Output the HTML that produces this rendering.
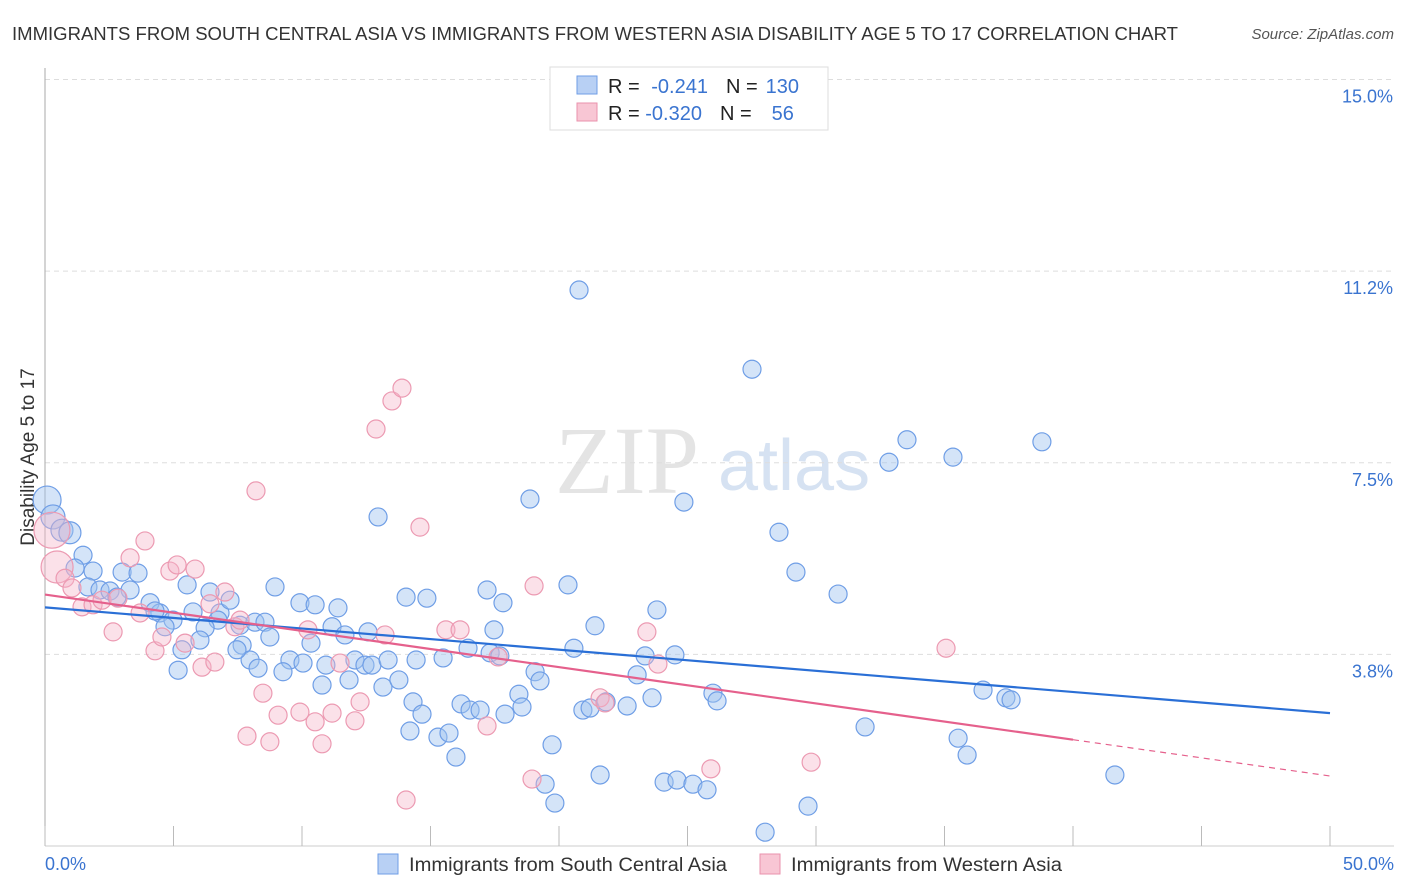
<!DOCTYPE html>
<html><head><meta charset="utf-8">
<style>
body{margin:0;background:#fff;font-family:"Liberation Sans",sans-serif;}
#wrap{position:relative;width:1406px;height:892px;overflow:hidden;}
</style></head>
<body>
<div id="wrap">
<svg id="svg" width="1406" height="892">
  <text x="12" y="40" font-size="18" fill="#333" textLength="1166" lengthAdjust="spacingAndGlyphs">IMMIGRANTS FROM SOUTH CENTRAL ASIA VS IMMIGRANTS FROM WESTERN ASIA DISABILITY AGE 5 TO 17 CORRELATION CHART</text>
  <text x="1394" y="39" font-size="15" fill="#555" font-style="italic" text-anchor="end">Source: ZipAtlas.com</text>
  <text x="34" y="457" font-size="19" fill="#333" text-anchor="middle" transform="rotate(-90 34 457)">Disability Age 5 to 17</text>
  <text x="555" y="493" font-size="96" fill="#e4e4e4" font-family="Liberation Serif,serif">ZIP</text>
  <text x="718" y="490" font-size="72" fill="#d6e2f2">atlas</text>
  <g id="grid"></g>
  <g id="marks"></g>
  <g>
    <rect x="550" y="67" width="278" height="63" fill="#fff" stroke="#ddd"/>
    <rect x="577" y="76" width="20" height="18" fill="#b8d0f4" stroke="#6f9ee6"/>
    <rect x="577" y="103" width="20" height="18" fill="#f8c6d4" stroke="#ea92ac"/>
    <text x="608" y="93" font-size="20" fill="#222">R = <tspan fill="#3a74d0" dx="6">-0.241</tspan><tspan dx="18" fill="#222">N =</tspan><tspan dx="8" fill="#3a74d0">130</tspan></text>
    <text x="608" y="120" font-size="20" fill="#222">R = <tspan fill="#3a74d0">-0.320</tspan><tspan dx="18" fill="#222">N =</tspan><tspan dx="20" fill="#3a74d0">56</tspan></text>
  </g>
  <g>
    <rect x="378" y="854" width="20" height="20" fill="#b8d0f4" stroke="#6f9ee6"/>
    <text x="409" y="871" font-size="19" fill="#333" textLength="318" lengthAdjust="spacingAndGlyphs">Immigrants from South Central Asia</text>
    <rect x="760" y="854" width="20" height="20" fill="#f8c6d4" stroke="#ea92ac"/>
    <text x="791" y="871" font-size="19" fill="#333" textLength="271" lengthAdjust="spacingAndGlyphs">Immigrants from Western Asia</text>
  </g>
</svg>
</div>
<script>
const yTicks=[3.75,7.5,11.25,15];
const yTickLabels=["3.8%","7.5%","11.2%","15.0%"];
const xTickValues=[0,5,10,15,20,25,30,35,40,45,50];
const xEndLabels=["0.0%","50.0%"];
const blueX=[0.08,0.31,0.66,0.97,1.48,1.17,1.87,3.0,3.62,1.67,2.14,2.53,3.31,2.8,4.09,4.47,4.28,4.98,4.67,5.53,5.76,6.42,6.81,7.2,6.73,6.23,6.03,5.33,5.18,7.59,8.17,8.56,7.67,8.75,8.95,9.92,10.51,11.4,11.17,11.67,12.57,12.96,14.05,14.86,9.53,10.04,10.93,12.06,12.45,12.72,13.35,14.44,15.49,7.98,8.29,7.47,9.26,10.35,10.78,11.83,13.15,13.77,14.32,14.67,14.2,15.29,15.72,15.99,16.19,16.54,16.93,17.2,17.82,17.47,16.46,17.32,17.7,18.44,18.56,17.9,18.87,19.07,19.26,19.73,19.46,19.84,20.35,20.58,20.93,21.21,21.4,21.6,21.83,22.65,23.04,23.35,23.62,23.81,24.09,24.51,24.59,25.21,25.76,25.99,26.15,24.86,28.56,29.22,30.86,31.91,32.84,33.54,35.33,35.53,35.88,36.5,37.39,37.59,38.79,41.63,20.78,27.51,28.02,29.69];
const blueY=[6.77,6.44,6.18,6.13,5.69,5.44,5.38,5.36,5.34,5.07,5.01,4.99,5.01,4.87,4.76,4.56,4.60,4.42,4.29,5.11,4.58,4.97,4.56,4.81,4.42,4.27,4.03,3.84,3.44,4.32,4.38,4.38,3.93,4.09,5.07,4.76,4.72,4.66,4.29,4.13,4.19,6.44,4.87,4.85,3.64,3.58,3.54,3.64,3.54,3.54,3.64,3.64,3.68,3.64,3.48,3.84,3.41,3.97,3.15,3.25,3.11,3.25,2.82,2.58,2.25,2.13,2.21,1.74,2.78,2.66,2.66,5.01,4.76,4.23,3.87,3.78,3.72,2.97,2.72,2.58,6.79,3.41,3.23,1.98,1.21,0.84,5.11,3.87,2.66,2.70,4.31,1.39,2.82,2.74,3.35,3.72,2.90,4.62,1.25,3.74,1.29,1.21,1.10,2.99,2.84,6.73,6.14,5.36,4.93,2.33,7.51,7.95,7.61,2.11,1.78,3.05,2.90,2.86,7.91,1.39,10.88,9.33,0.27,0.78];
const pinkX=[0.27,0.47,0.78,1.05,1.44,1.87,2.22,2.65,2.84,3.31,3.7,3.89,4.28,4.55,4.86,5.14,5.45,5.84,6.11,6.42,6.61,7.0,7.39,7.59,7.86,8.21,8.48,8.75,9.07,9.92,10.23,10.51,10.78,11.17,11.48,12.06,12.26,12.88,13.23,13.5,13.89,14.05,14.59,15.6,16.15,17.2,17.63,18.95,19.03,21.6,21.79,23.42,23.85,25.91,29.81,35.06];
const pinkY=[6.18,5.46,5.24,5.05,4.68,4.72,4.81,4.19,4.85,5.64,4.56,5.97,3.82,4.09,5.38,5.50,3.97,5.42,3.50,4.74,3.60,4.97,4.29,4.42,2.15,6.95,2.99,2.04,2.56,2.62,4.23,2.43,2.00,2.60,3.58,2.45,2.82,8.16,4.13,8.71,8.96,0.90,6.24,4.23,4.23,2.35,3.70,1.31,5.09,2.90,2.80,4.19,3.56,1.51,1.64,3.87];
const blueTrend=[4.67,2.6];      // value at x=0, x=50
const pinkTrend=[4.92,1.37];     // value at x=0, x=50
const pinkSolidEnd=40;

const X=v=>45+v*25.7;
const Y=v=>846-v*51.1;
const NS="http://www.w3.org/2000/svg";
function mk(tag,attrs,parent){const e=document.createElementNS(NS,tag);for(const k in attrs)e.setAttribute(k,attrs[k]);parent.appendChild(e);return e;}
const grid=document.getElementById('grid'),marks=document.getElementById('marks');

yTicks.forEach((t,i)=>{
  const l=mk('line',{x1:45,x2:1394,y1:Y(t),y2:Y(t),stroke:'#ddd','stroke-dasharray':'5,4'},grid);
  
  
  const tx=mk('text',{x:1393,y:Y(t)+23,'font-size':18,fill:'#3a74d0','text-anchor':'end'},grid);
  tx.textContent=yTickLabels[i];
  
  
});
const ax=mk('line',{x1:45,x2:45,y1:68,y2:846,stroke:'#aaa'},grid);


const bx=mk('line',{x1:45,x2:1394,y1:846,y2:846,stroke:'#ccc'},grid);


xTickValues.forEach(t=>{
  const l=mk('line',{x1:X(t),x2:X(t),y1:826,y2:846,stroke:'#bbb'},grid);
  
  
});
[[0,'start',45],[50,'end',1394]].forEach((d,i)=>{
  const tx=mk('text',{x:d[2],y:870,'font-size':18,fill:'#3a74d0','text-anchor':d[1]},grid);
  tx.textContent=xEndLabels[i];
  
  
});

blueX.forEach((v,i)=>{
  const r=i==0?14:i==1?12:(i<4?11:9);
  const c=mk('circle',{cx:X(v),cy:Y(blueY[i]),r:r,fill:'rgba(160,196,240,0.45)',stroke:'#6f9ee6','stroke-width':1.2},marks);
  
  
});
pinkX.forEach((v,i)=>{
  const r=i==0?18:i==1?16:9;
  const c=mk('circle',{cx:X(v),cy:Y(pinkY[i]),r:r,fill:'rgba(246,180,200,0.4)',stroke:'#ec9ab2','stroke-width':1.2},marks);
  
  
});
const pv=x=>pinkTrend[0]+(pinkTrend[1]-pinkTrend[0])*x/50;
const bl=mk('line',{x1:X(0),y1:Y(blueTrend[0]),x2:X(50),y2:Y(blueTrend[1]),stroke:'#2a6fd6','stroke-width':2.2},marks);


const pl=mk('line',{x1:X(0),y1:Y(pv(0)),x2:X(pinkSolidEnd),y2:Y(pv(pinkSolidEnd)),stroke:'#e5608c','stroke-width':2.2},marks);


const pd=mk('line',{x1:X(pinkSolidEnd),y1:Y(pv(pinkSolidEnd)),x2:X(50),y2:Y(pv(50)),stroke:'#e5608c','stroke-width':1.2,'stroke-dasharray':'6,5'},marks);


</script>
</body></html>
